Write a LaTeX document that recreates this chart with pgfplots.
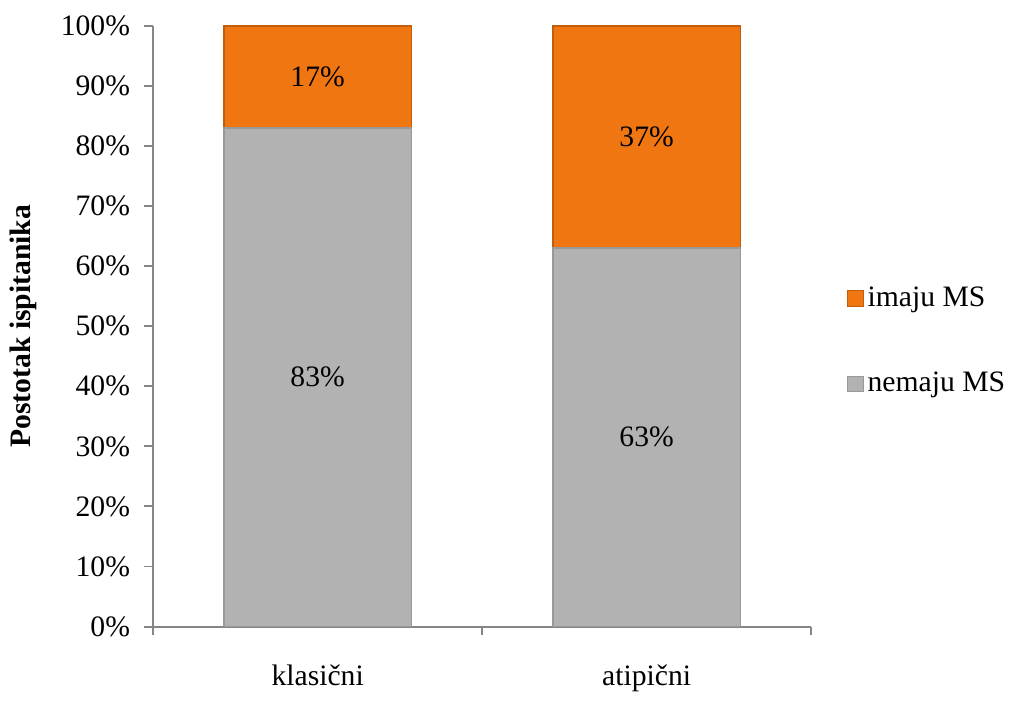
\documentclass[border=0pt]{standalone}
\usepackage{fontspec}
\setmainfont{Liberation Serif}
\usepackage{pgfplots}
\pgfplotsset{compat=1.18}
\definecolor{barGray}{HTML}{B2B2B2}
\definecolor{barOrange}{HTML}{F07612}
\definecolor{axGray}{HTML}{868686}

\begin{document}
\fontsize{15}{18}\selectfont
\begin{tikzpicture}
\begin{axis}[
  name=main,
  width=333pt, height=304pt, scale only axis,
  ybar stacked, bar width=95pt,
  xmin=0, xmax=2, ymin=0, ymax=100,
  axis x line*=bottom, axis y line*=left,
  axis line style={axGray, line width=1pt},
  tick align=outside,
  major tick length=4.5pt,
  tick style={axGray, line width=1pt},
  ytick={0,10,...,100},
  yticklabel={\pgfmathprintnumber{\tick}\%},
  yticklabel style={xshift=-2pt},
  /pgf/number format/assume math mode=true,
  xtick={0,1,2}, xticklabels={},
  extra x ticks={0.5,1.5},
  extra x tick labels={klasični,atipični},
  extra x tick style={major tick length=0pt, xticklabel style={yshift=-14pt}},
  ylabel={\textbf{Postotak ispitanika}},
  ylabel style={yshift=2pt},
  reverse legend,
  legend style={draw=none, fill=none, at={(1.045,0.475)}, anchor=west,
    row sep=27pt, legend cell align=left},
  legend image code/.code={\draw[#1, line width=0.4pt] (0pt,-4pt) rectangle (8pt,4pt);},
]
\addplot[fill=barGray, draw=black!40, line width=1pt] coordinates {(0.5,83) (1.5,63)};
\addlegendentry{nemaju MS}
\addplot[fill=barOrange, draw=barOrange!80!black, line width=1pt] coordinates {(0.5,17) (1.5,37)};
\addlegendentry{imaju MS}
\end{axis}
\begin{axis}[
  at={(main.south west)}, anchor=south west,
  width=333pt, height=304pt, scale only axis,
  xmin=0, xmax=2, ymin=0, ymax=100, hide axis,
]
\addplot[only marks, mark=none, nodes near coords, point meta=explicit symbolic,
  every node near coord/.style={anchor=center, inner sep=0pt, font=\fontsize{15}{18}\selectfont}]
  coordinates {(0.5,41.5)[83\%] (0.5,91.5)[17\%] (1.5,31.5)[63\%] (1.5,81.5)[37\%]};
\end{axis}
\path (current bounding box.north east) ++(0pt,3pt) coordinate (pad);
\path (pad);
\end{tikzpicture}
\end{document}
